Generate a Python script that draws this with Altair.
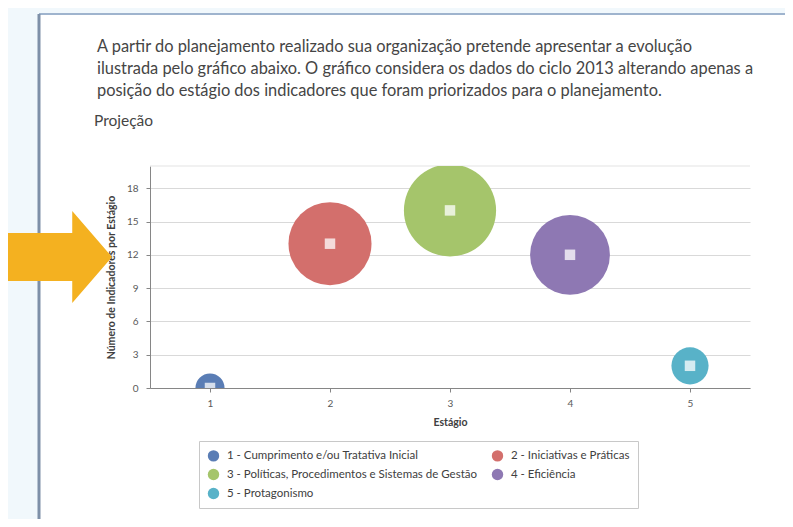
import altair as alt
import pandas as pd

# ---- data ----
stages = [1, 2, 3, 4, 5]
stage_labels = [
    "1 - Cumprimento e/ou Tratativa Inicial",
    "2 - Iniciativas e Práticas",
    "3 - Políticas, Procedimentos e Sistemas de Gestão",
    "4 - Eficiência",
    "5 - Protagonismo",
]
indicadores = [0, 13, 16, 12, 2]          # y value (number of indicators per stage)
bubble_size = [1.6, 13, 16, 12, 2.6]      # bubble size
colors = ["#5A7DB5", "#D36F6C", "#A5C56B", "#8E78B3", "#58B2C8"]
y_ticks = [0, 3, 6, 9, 12, 15, 18]
legend_order = [0, 2, 4, 1, 3]            # legend is filled column by column

paragraph = [
    "A partir do planejamento realizado sua organização pretende apresentar a evolução",
    "ilustrada pelo gráfico abaixo. O gráfico considera os dados do ciclo 2013 alterando apenas a",
    "posição do estágio dos indicadores que foram priorizados para o planejamento.",
]
heading = "Projeção"

FONT = "Lato"
TINT = "#F1F8FC"

df = pd.DataFrame({"stage": stages, "label": stage_labels,
                   "n": indicadores, "size": bubble_size})

one = pd.DataFrame({"k": [0]})

# tinted page strips around the panel box (plot-area coordinates; plot origin at page (150,166))
left_strip = alt.Chart(one).mark_rect(color=TINT).encode(
    x=alt.value(-142), x2=alt.value(-111), y=alt.value(-158), y2=alt.value(361))
top_strip = alt.Chart(one).mark_rect(color=TINT).encode(
    x=alt.value(-142), x2=alt.value(643), y=alt.value(-158), y2=alt.value(-152))
bottom_strip = alt.Chart(one).mark_rect(color=TINT).encode(
    x=alt.value(-142), x2=alt.value(643), y=alt.value(358), y2=alt.value(361))
top_border = alt.Chart(one).mark_rule(color="#9FB4CE", strokeWidth=2).encode(
    x=alt.value(-111), x2=alt.value(643), y=alt.value(-152))
left_border = alt.Chart(one).mark_rule(color="#7E90A8", strokeWidth=3).encode(
    x=alt.value(-111), y=alt.value(-152), y2=alt.value(358))
plot_top = alt.Chart(one).mark_rule(color="#E3E3E3", strokeWidth=1).encode(
    x=alt.value(0), x2=alt.value(600), y=alt.value(0))

arrow_path = "M-1,-0.43 L0.29,-0.43 L0.29,-0.82 L1,0 L0.29,0.82 L0.29,0.43 L-1,0.43 Z"
arrow = alt.Chart(one).mark_point(
    shape=arrow_path, filled=True, color="#F4B120", opacity=1, size=12544, strokeWidth=0
).encode(x=alt.value(-94), y=alt.value(91))

text_layers = []
for i, line in enumerate(paragraph):
    text_layers.append(
        alt.Chart(pd.DataFrame({"t": [line]})).mark_text(
            align="left", baseline="middle", font=FONT, fontSize=16.4, color="#454545"
        ).encode(x=alt.value(-53), y=alt.value(-119 + 22 * i), text="t:N")
    )
text_layers.append(
    alt.Chart(pd.DataFrame({"t": [heading]})).mark_text(
        align="left", baseline="middle", font=FONT, fontSize=15.5, color="#454545"
    ).encode(x=alt.value(-56), y=alt.value(-45), text="t:N")
)

xenc = alt.X("stage:Q", scale=alt.Scale(domain=[0.5, 5.5], nice=False, zero=False),
             axis=alt.Axis(values=stages, tickCount=10, format="d", grid=False, title="Estágio",
                           tickSize=4, labelPadding=6, titlePadding=9,
                           domainColor="#868686", tickColor="#868686",
                           labelColor="#595959", labelFontSize=10, labelFont=FONT,
                           titleFont=FONT, titleFontSize=10.5, titleColor="#404040"))
yenc = alt.Y("n:Q", scale=alt.Scale(domain=[0, 20], nice=False),
             axis=alt.Axis(values=y_ticks, tickCount=10, grid=True, gridColor="#D9D9D9",
                           labelOverlap=False,
                           title="Número de Indicadores por Estágio",
                           tickSize=4, labelPadding=8, titlePadding=10,
                           domainColor="#868686", tickColor="#868686",
                           labelColor="#595959", labelFontSize=10, labelFont=FONT,
                           titleFont=FONT, titleFontSize=10.5, titleColor="#404040"))

bubbles = alt.Chart(df).mark_circle(opacity=1, clip=True).encode(
    x=xenc, y=yenc,
    size=alt.Size("size:Q", scale=alt.Scale(domain=[0, 16], range=[0, 8495]), legend=None),
    color=alt.Color("label:N",
                    scale=alt.Scale(domain=[stage_labels[i] for i in legend_order],
                                    range=[colors[i] for i in legend_order]),
                    legend=alt.Legend(title=None, orient="none", legendX=49, legendY=275,
                                      columns=2, symbolType="circle", symbolSize=130,
                                      labelFont=FONT, labelFontSize=11.5, labelColor="#404040",
                                      padding=8, strokeColor="#C8C8C8", rowPadding=6,
                                      columnPadding=14, labelLimit=400, labelOffset=7)),
)
squares = alt.Chart(df).mark_square(color="white", opacity=0.75, size=110, clip=True).encode(
    x="stage:Q", y="n:Q")

chart = alt.layer(left_strip, top_strip, bottom_strip, top_border, left_border, plot_top, arrow,
                  *text_layers, bubbles, squares).properties(
    width=600, height=222,
    padding={"left": 142, "top": 158, "right": 35, "bottom": 131},
    autosize=alt.AutoSizeParams(type="none"),
    background="white",
    view=alt.ViewBackground(stroke="transparent", strokeWidth=0),
).configure_view(stroke="transparent", strokeWidth=0)

chart.save("out.html", embed_options={"renderer": "svg", "actions": False})
